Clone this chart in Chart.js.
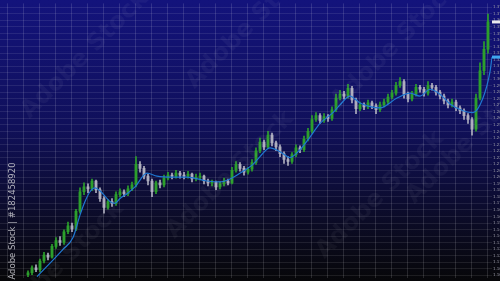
<!DOCTYPE html>
<html>
<head>
<meta charset="utf-8">
<script src="https://cdn.jsdelivr.net/npm/chart.js@4/dist/chart.umd.min.js"></script>
<style>
  html, body { margin: 0; padding: 0; background: #000; }
  #wrap { width: 500px; height: 281px; position: relative; }
</style>
</head>
<body>
<div id="wrap"><canvas id="chart"></canvas></div>
<script>
// candles (price units, one candle every 4px)
const opens = [3,5,10,8,17,23,21,32,38,36,
  47,53,50,68,88,93,91,99,90,81,
  72,78,76,85,88,86,91,95,116,112,
  104,99,88,97,95,102,105,104,107,105,
  104,106,101,103,104,99,97,98,93,96,
  99,97,110,116,112,108,111,118,130,139,
  134,146,138,134,127,121,119,126,133,131,
  142,150,162,166,161,165,163,172,184,188,
  186,194,182,173,177,175,179,176,172,177,
  180,185,189,197,201,188,183,188,195,193,
  189,197,195,190,186,181,177,180,174,171,
  166,162,152,184,212,234];
const closes = [5,10,8,17,23,21,32,38,36,47,
  53,50,68,88,93,91,99,90,81,72,
  78,76,85,88,86,91,95,116,112,104,
  99,88,97,95,102,105,104,107,105,104,
  106,101,103,104,99,97,98,93,96,99,
  97,110,116,112,108,111,118,130,139,134,
  146,138,134,127,121,119,126,133,131,142,
  150,162,166,161,165,163,172,184,188,186,
  194,182,173,177,175,179,176,172,177,180,
  185,189,197,201,188,183,188,195,193,189,
  197,195,190,186,181,177,180,174,171,166,
  162,152,184,212,234,262];
const highs = [7,12,13,19,26,25,34,41,42,49,
  57,56,70,92,97,96,101,100,92,83,
  80,81,88,91,90,94,98,124,119,114,
  106,101,99,100,105,108,107,110,109,108,
  109,107,106,107,105,101,100,99,98,102,
  101,113,119,118,114,113,121,133,143,141,
  150,148,140,136,129,124,128,136,135,145,
  153,166,169,168,168,167,175,188,192,191,
  198,196,184,180,179,182,181,178,180,183,
  188,192,200,205,203,190,191,198,197,195,
  201,199,197,192,188,183,183,182,176,173,
  168,164,188,220,242,270];
const lows = [1,3,6,6,15,18,20,30,33,34,
  45,47,48,66,85,87,89,87,78,66,
  70,73,74,83,83,84,89,93,108,101,
  95,83,86,92,93,100,101,102,102,101,
  102,98,99,100,96,94,94,90,91,94,
  95,96,108,109,105,106,109,116,128,131,
  132,135,130,124,117,115,117,124,128,129,
  140,148,160,158,159,160,161,170,182,183,
  184,179,168,171,172,173,173,168,170,175,
  178,183,187,195,184,180,181,186,190,186,
  187,192,187,183,178,174,175,171,168,162,
  158,146,150,182,208,230];

// moving average line
const maX = [2.25,8.75,11.25,13,14.25,15.5,16.75,18,20.5,21.75,
  23,24.75,26.75,29.75,32.25,36.25,39.75,44.75,48,50.5,
  53.75,56.25,58,60.5,63,65.5,68,70.5,73,76.25,
  78,80.5,83,88,92.25,95.5,98,100.5,103,105.5,
  108.75,111.25,113.75,115.5,116];
const maY = [1,29,41,64,78,88,92,89,78,76,
  81,86,93,107,104,103,103,99,98,101,
  109,116,124,133,129,123,131,144,158,169,
  177,186,179,174,184,189,186,193,188,178,
  171,169,184,211,226];

const watermark = 'Adobe Stock';
const stockId = 'Adobe Stock | #182458920';

const UP = '#2c9f2c';
const DOWN = '#aeaebe';
const candleColor = ctx => {
  const i = ctx.dataIndex;
  return closes[i] >= opens[i] ? UP : DOWN;
};

// fond degradé bleu -> noir
const background = {
  id: 'background',
  beforeDraw(chart) {
    const c = chart.ctx;
    const g = c.createLinearGradient(0, 0, 0, chart.height);
    g.addColorStop(0, '#13137c');
    g.addColorStop(0.45, '#10105a');
    g.addColorStop(0.8, '#0b0b24');
    g.addColorStop(1, '#070709');
    c.save();
    c.fillStyle = g;
    c.fillRect(0, 0, chart.width, chart.height);
    c.restore();
  }
};

// watermark + vertical id text
const stamps = {
  id: 'stamps',
  afterDatasetsDraw(chart) {
    const c = chart.ctx;
    c.save();
    c.font = 'bold 24px "DejaVu Sans", sans-serif';
    c.fillStyle = 'rgba(255,255,255,0.045)';
    c.textAlign = 'center';
    c.textBaseline = 'middle';
    [[85, 55], [250, 25], [230, 175], [395, 45], [380, 195], [60, 265], [470, 140]].forEach(([x, y]) => {
      c.save();
      c.translate(x, y);
      c.rotate(-Math.PI / 4);
      c.fillText(watermark, 0, 0);
      c.restore();
    });
    c.restore();

    c.save();
    c.translate(13, 221);
    c.rotate(-Math.PI / 2);
    c.font = '8.5px "DejaVu Sans", sans-serif';
    c.fillStyle = 'rgba(205,205,210,0.85)';
    c.textAlign = 'center';
    c.textBaseline = 'middle';
    c.fillText(stockId, 0, 0);
    c.restore();
  }
};

// markers on the right scale (last price, last average)
const markers = {
  id: 'markers',
  afterDraw(chart) {
    const c = chart.ctx;
    const ys = chart.scales.y;
    const x0 = chart.chartArea.right;
    const mark = (v, col) => {
      const y = ys.getPixelForValue(v);
      c.fillStyle = col;
      c.fillRect(x0, y - 1.5, chart.width - x0, 3);
    };
    c.save();
    mark(closes[closes.length - 1], '#e8e8ee');
    mark(maY[maY.length - 1], '#3fa6f0');
    c.restore();
  }
};

const ctx = document.getElementById('chart').getContext('2d');
new Chart(ctx, {
  data: {
    datasets: [
      {
        type: 'bar',
        data: opens.map((o, i) => ({ x: i, y: [lows[i], highs[i]] })),
        backgroundColor: candleColor,
        barThickness: 1,
        grouped: false,
        order: 3
      },
      {
        type: 'bar',
        data: opens.map((o, i) => ({ x: i, y: [o, closes[i]] })),
        backgroundColor: candleColor,
        barThickness: 2.2,
        minBarLength: 1,
        grouped: false,
        order: 2
      },
      {
        type: 'line',
        data: maX.map((x, i) => ({ x: x, y: maY[i] })),
        borderColor: '#1f78d2',
        borderWidth: 1.2,
        pointRadius: 0,
        cubicInterpolationMode: 'monotone',
        order: 1
      }
    ]
  },
  options: {
    responsive: true,
    maintainAspectRatio: false,
    animation: false,
    layout: { padding: 0 },
    plugins: { legend: { display: false }, tooltip: { enabled: false } },
    scales: {
      x: {
        type: 'linear',
        min: -7,
        max: 116,
        offset: false,
        border: { display: false },
        grid: { color: 'rgba(255,255,255,0.13)', lineWidth: 1, drawTicks: false, offset: false },
        ticks: { display: false, autoSkip: false },
        afterBuildTicks: s => {
          const t = [];
          for (let v = -5.25; v <= 116; v += 4) t.push({ value: v });
          s.ticks = t;
        },
        afterFit: s => { s.height = 0; }
      },
      y: {
        position: 'right',
        min: 0,
        max: 281,
        border: { display: false },
        grid: { color: 'rgba(255,255,255,0.09)', lineWidth: 1, drawTicks: false },
        ticks: {
          color: '#9a9aa6',
          autoSkip: false,
          font: { size: 4, family: 'DejaVu Sans' },
          padding: 1,
          callback: v => (1.1 + v / 1000).toFixed(4)
        },
        afterBuildTicks: s => {
          const t = [];
          for (let p = 4; p <= 281; p += 6.7) t.push({ value: 281 - p });
          s.ticks = t;
        },
        afterFit: s => { s.width = 8; }
      }
    }
  },
  plugins: [background, stamps, markers]
});
</script>
</body>
</html>
